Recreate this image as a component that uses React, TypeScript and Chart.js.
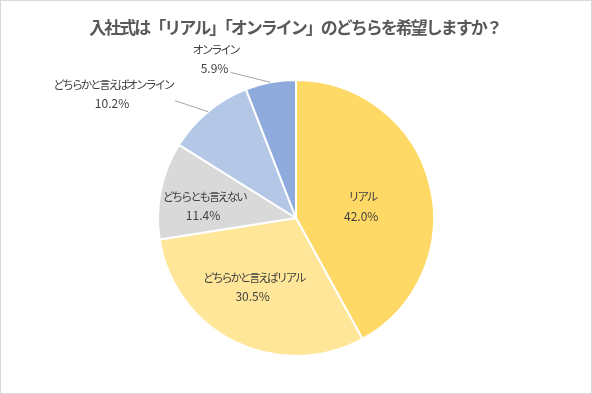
import React, { useEffect, useRef } from "react";
import { Chart, registerables } from "chart.js";

Chart.register(...registerables);

const TITLE = "入社式は「リアル」「オンライン」のどちらを希望しますか？";
const categories = ["リアル", "どちらかと言えばリアル", "どちらとも言えない", "どちらかと言えばオンライン", "オンライン"];
const values = [42.0, 30.5, 11.4, 10.2, 5.9];
const colors = ["#FFD966", "#FFE699", "#D9D9D9", "#B4C7E7", "#8FAADC"];

// label placement: inside (radial factor + nudge) or outside (offset from arc edge + leader)
const placements = [
  { inside: true, r: 0.48, dx: 1, dy: 5 },
  { inside: true, r: 0.6, dx: -7, dy: -5 },
  { inside: true, r: 0.68, dx: -1, dy: 7 },
  { inside: false, tx: -96, ty: -18, lx: -33, ly: -11 },
  { inside: false, tx: -56, ty: -23, lx: -40, ly: -10 },
];

const FONT = '"Noto Sans CJK JP", "Noto Sans", sans-serif';

const labelPlugin = {
  id: "pieLabels",
  afterDatasetsDraw(chart: any) {
    const ctx = chart.ctx;
    const meta = chart.getDatasetMeta(0);
    ctx.save();
    meta.data.forEach((arc: any, i: number) => {
      const { x, y, startAngle, endAngle, outerRadius } = arc.getProps(
        ["x", "y", "startAngle", "endAngle", "outerRadius"],
        true
      );
      const mid = (startAngle + endAngle) / 2;
      const p = placements[i];
      let cx: number, cy: number;
      if (p.inside) {
        cx = x + Math.cos(mid) * outerRadius * (p.r as number) + (p.dx as number);
        cy = y + Math.sin(mid) * outerRadius * (p.r as number) + (p.dy as number);
      } else {
        const ex = x + Math.cos(mid) * outerRadius;
        const ey = y + Math.sin(mid) * outerRadius;
        ctx.strokeStyle = "#A6A6A6";
        ctx.lineWidth = 1;
        ctx.beginPath();
        ctx.moveTo(ex, ey);
        ctx.lineTo(ex + (p.lx as number), ey + (p.ly as number));
        ctx.stroke();
        cx = ex + (p.tx as number);
        cy = ey + (p.ty as number);
      }
      ctx.fillStyle = "#404040";
      ctx.textAlign = "center";
      ctx.textBaseline = "middle";
      ctx.font = `11.5px ${FONT}`;
      ctx.letterSpacing = "-2.3px";
      ctx.fillText(categories[i], cx + 1, cy - 9.5);
      ctx.font = `12px ${FONT}`;
      ctx.letterSpacing = "0px";
      ctx.fillText(values[i].toFixed(1) + "%", cx, cy + 9.5);
    });
    ctx.restore();
  },
};

const framePlugin = {
  id: "frame",
  beforeDraw(chart: any) {
    const ctx = chart.ctx;
    ctx.save();
    ctx.fillStyle = "#FFFFFF";
    ctx.fillRect(0, 0, chart.width, chart.height);
    ctx.strokeStyle = "#D9D9D9";
    ctx.lineWidth = 1;
    ctx.strokeRect(0.5, 0.5, chart.width - 1, chart.height - 1);
    ctx.restore();
  },
  afterDraw(chart: any) {
    const ctx = chart.ctx;
    ctx.save();
    ctx.fillStyle = "#595959";
    ctx.textAlign = "center";
    ctx.textBaseline = "middle";
    ctx.font = `bold 17px ${FONT}`;
    ctx.letterSpacing = "-2px";
    ctx.fillText(TITLE, chart.width / 2 - 1, 28);
    ctx.restore();
  },
};

export default function App() {
  const ref = useRef<HTMLCanvasElement>(null);
  useEffect(() => {
    document.body.style.margin = "0";
    const chart = new Chart(ref.current as HTMLCanvasElement, {
      type: "pie",
      data: {
        labels: categories,
        datasets: [
          {
            data: values,
            backgroundColor: colors,
            borderColor: "#FFFFFF",
            borderWidth: 2,
          },
        ],
      },
      options: {
        animation: false,
        responsive: false,
        radius: 138,
        layout: { padding: { top: 42, bottom: 0, left: 0, right: 0 } },
        plugins: {
          legend: { display: false },
          tooltip: { enabled: false },
          title: { display: false },
        },
      } as any,
      plugins: [framePlugin, labelPlugin],
    });
    return () => chart.destroy();
  }, []);
  return (
    <div style={{ width: 592, height: 394 }}>
      <canvas ref={ref} width={592} height={394} style={{ display: "block" }} />
    </div>
  );
}
